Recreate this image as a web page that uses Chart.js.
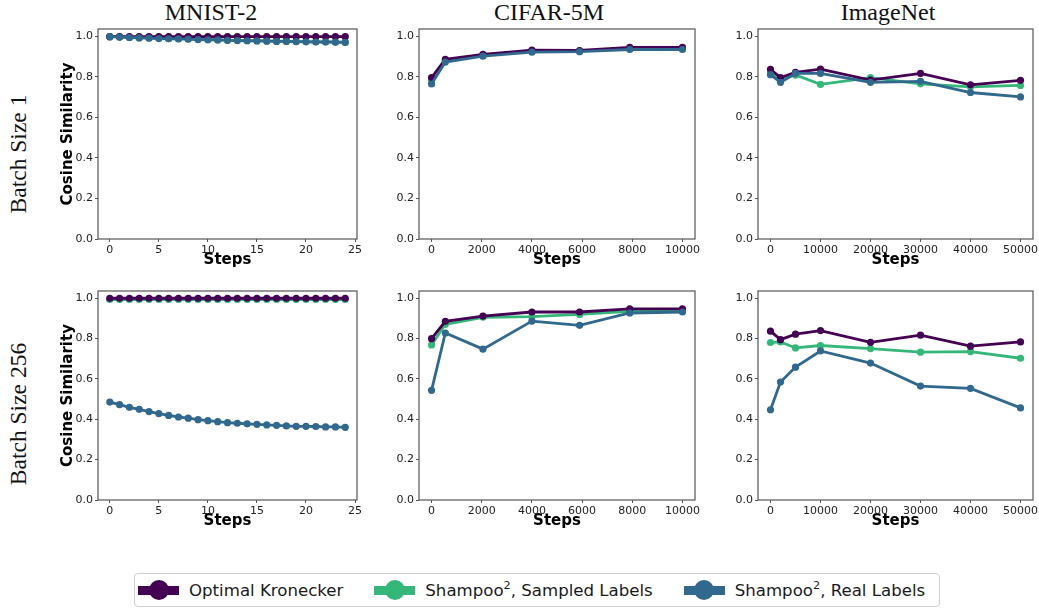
<!DOCTYPE html>
<html>
<head>
<meta charset="utf-8">
<script src="https://cdn.jsdelivr.net/npm/chart.js@4.4.1/dist/chart.umd.min.js"></script>
<style>
  body { margin: 0; width: 1039px; height: 609px; overflow: hidden; background: #fff; position: relative; font-family: "DejaVu Sans", sans-serif; }
  canvas { position: absolute; }
  .col-title { position: absolute; top: 0; font-family: "Liberation Serif", serif; font-size: 24px; line-height: 24px; transform: translateX(-50%); white-space: nowrap; color: #111; }
  .row-title { position: absolute; font-family: "Liberation Serif", serif; font-size: 23.5px; line-height: 23.5px; transform: translate(-50%, -50%) rotate(-90deg); white-space: nowrap; color: #111; }
  #legend { position: absolute; left: 134px; top: 573px; width: 801px; height: 32px; border: 1px solid #d0d0d0; border-radius: 4px; display: flex; align-items: center; padding-left: 3px; box-sizing: content-box; }
  .item { display: flex; align-items: center; margin-right: 31px; font-size: 16.6px; color: #1a1a1a; white-space: nowrap; }
  .mark { position: relative; width: 41px; height: 20px; margin-right: 10px; }
  .mark::before { content: ""; position: absolute; left: 0; top: 5.5px; width: 41px; height: 9px; background: var(--c); }
  .mark::after { content: ""; position: absolute; left: 10.5px; top: 0; width: 20px; height: 20px; border-radius: 50%; background: var(--c); }
  sup { font-size: 0.68em; line-height: 0; }
</style>
</head>
<body>
<div class="col-title" style="left:211px">MNIST-2</div>
<div class="col-title" style="left:549px">CIFAR-5M</div>
<div class="col-title" style="left:888px">ImageNet</div>
<div class="row-title" style="left:18.5px; top:154px">Batch Size 1</div>
<div class="row-title" style="left:18.5px; top:414px">Batch Size 256</div>

<div id="legend"></div>

<script>
// series names / colours
const seriesNames = ["Optimal Kronecker", "Shampoo<sup>2</sup>, Sampled Labels", "Shampoo<sup>2</sup>, Real Labels"];
const seriesColors = ["#440154", "#35b779", "#31688e"];

// x values (steps)
const mnistSteps = [0, 1, 2, 3, 4, 5, 6, 7, 8, 9, 10, 11, 12, 13, 14, 15, 16, 17, 18, 19, 20, 21, 22, 23, 24];
const cifarSteps = [0, 550, 2050, 4000, 5900, 7900, 10000];
const imagenetSteps = [0, 2000, 5000, 10000, 20000, 30000, 40000, 50000];

// tick labels
const mnistTicks = [0, 5, 10, 15, 20, 25];
const cifarTicks = [0, 2000, 4000, 6000, 8000, 10000];
const imagenetTicks = [0, 10000, 20000, 30000, 40000, 50000];
const yTicks = [0.0, 0.2, 0.4, 0.6, 0.8, 1.0];

// MNIST-2, batch size 1
const mnistBs1Kron = [0.997, 0.997, 0.997, 0.997, 0.997, 0.997, 0.997, 0.997, 0.997, 0.997, 0.997, 0.997, 0.997, 0.997, 0.997, 0.997, 0.997, 0.997, 0.997, 0.997, 0.997, 0.997, 0.997, 0.997, 0.997];
const mnistBs1Sampled = [0.997, 0.996, 0.994, 0.992, 0.991, 0.989, 0.988, 0.987, 0.986, 0.984, 0.983, 0.982, 0.980, 0.979, 0.978, 0.977, 0.976, 0.975, 0.975, 0.974, 0.973, 0.972, 0.972, 0.971, 0.970];
const mnistBs1Real = [0.997, 0.995, 0.993, 0.991, 0.990, 0.988, 0.987, 0.986, 0.985, 0.983, 0.982, 0.981, 0.979, 0.978, 0.977, 0.976, 0.975, 0.974, 0.974, 0.973, 0.972, 0.971, 0.971, 0.970, 0.969];

// MNIST-2, batch size 256
const mnistBs256Kron = [0.999, 0.999, 0.999, 0.999, 0.999, 0.999, 0.999, 0.999, 0.999, 0.999, 0.999, 0.999, 0.999, 0.999, 0.999, 0.999, 0.999, 0.999, 0.999, 0.999, 0.999, 0.999, 0.999, 0.999, 0.999];
const mnistBs256Sampled = [0.993, 0.993, 0.993, 0.993, 0.993, 0.993, 0.993, 0.993, 0.993, 0.993, 0.993, 0.993, 0.993, 0.993, 0.993, 0.993, 0.993, 0.993, 0.993, 0.993, 0.993, 0.993, 0.993, 0.993, 0.993];
const mnistBs256Real = [0.485, 0.472, 0.459, 0.449, 0.438, 0.428, 0.419, 0.411, 0.405, 0.398, 0.393, 0.388, 0.383, 0.380, 0.377, 0.375, 0.372, 0.370, 0.367, 0.365, 0.365, 0.364, 0.362, 0.362, 0.360];

// CIFAR-5M
const cifarBs1Kron = [0.796, 0.885, 0.910, 0.931, 0.929, 0.944, 0.944];
const cifarBs1Sampled = [0.783, 0.877, 0.908, 0.926, 0.926, 0.938, 0.938];
const cifarBs1Real = [0.764, 0.872, 0.901, 0.921, 0.923, 0.934, 0.934];
const cifarBs256Kron = [0.799, 0.885, 0.911, 0.931, 0.931, 0.946, 0.946];
const cifarBs256Sampled = [0.768, 0.870, 0.905, 0.908, 0.919, 0.934, 0.937];
const cifarBs256Real = [0.543, 0.827, 0.747, 0.886, 0.865, 0.926, 0.931];

// ImageNet
const imagenetBs1Kron = [0.836, 0.796, 0.821, 0.837, 0.783, 0.816, 0.760, 0.782];
const imagenetBs1Sampled = [0.816, 0.790, 0.808, 0.762, 0.795, 0.765, 0.750, 0.757];
const imagenetBs1Real = [0.810, 0.772, 0.816, 0.816, 0.772, 0.777, 0.722, 0.700];
const imagenetBs256Kron = [0.836, 0.794, 0.821, 0.839, 0.781, 0.816, 0.762, 0.783];
const imagenetBs256Sampled = [0.780, 0.783, 0.753, 0.765, 0.750, 0.732, 0.735, 0.702];
const imagenetBs256Real = [0.447, 0.584, 0.658, 0.738, 0.678, 0.564, 0.553, 0.456];

// panel layout (plot area box in page pixels)
const panels = [
  { l: 98,  t: 29,  r: 357,  b: 239, steps: mnistSteps, ticks: mnistTicks, xMin: -1.2, xMax: 25.2, yTitle: true, series: [mnistBs1Kron, mnistBs1Sampled, mnistBs1Real] },
  { l: 419, t: 29,  r: 695,  b: 239, steps: cifarSteps, ticks: cifarTicks, xMin: -500, xMax: 10500, series: [cifarBs1Kron, cifarBs1Sampled, cifarBs1Real] },
  { l: 758, t: 29,  r: 1033, b: 239, steps: imagenetSteps, ticks: imagenetTicks, xMin: -2500, xMax: 52500, series: [imagenetBs1Kron, imagenetBs1Sampled, imagenetBs1Real] },
  { l: 98,  t: 291, r: 357,  b: 500, steps: mnistSteps, ticks: mnistTicks, xMin: -1.2, xMax: 25.2, yTitle: true, series: [mnistBs256Kron, mnistBs256Sampled, mnistBs256Real] },
  { l: 419, t: 291, r: 695,  b: 500, steps: cifarSteps, ticks: cifarTicks, xMin: -500, xMax: 10500, series: [cifarBs256Kron, cifarBs256Sampled, cifarBs256Real] },
  { l: 758, t: 291, r: 1033, b: 500, steps: imagenetSteps, ticks: imagenetTicks, xMin: -2500, xMax: 52500, series: [imagenetBs256Kron, imagenetBs256Sampled, imagenetBs256Real] }
];

// draw order: real labels on top, then kronecker, sampled at bottom
const drawOrder = [1, 2, 0];

// full frame round the plot area, like matplotlib spines
const frame = {
  id: 'frame',
  afterDraw(chart) {
    const a = chart.chartArea, ctx = chart.ctx;
    ctx.save();
    ctx.strokeStyle = '#555';
    ctx.lineWidth = 1.2;
    ctx.strokeRect(a.left, a.top, a.right - a.left, a.bottom - a.top);
    ctx.restore();
  }
};

const padTop = 10, padRight = 25, xAxisH = 30;

panels.forEach(p => {
  const yW = p.yTitle ? 39 : 30;
  const canvas = document.createElement('canvas');
  const w = yW + (p.r - p.l) + padRight;
  const h = padTop + (p.b - p.t) + xAxisH;
  canvas.width = w; canvas.height = h;
  canvas.style.left = (p.l - yW) + 'px';
  canvas.style.top = (p.t - padTop) + 'px';
  canvas.style.width = w + 'px'; canvas.style.height = h + 'px';
  document.body.appendChild(canvas);

  new Chart(canvas.getContext('2d'), {
    type: 'line',
    data: {
      datasets: p.series.map((vals, i) => ({
        label: seriesNames[i],
        data: p.steps.map((s, j) => ({ x: s, y: vals[j] })),
        borderColor: seriesColors[i],
        backgroundColor: seriesColors[i],
        pointBackgroundColor: seriesColors[i],
        pointBorderWidth: 0,
        pointRadius: 3.6,
        borderWidth: 2.8,
        tension: 0,
        order: drawOrder[i]
      }))
    },
    options: {
      responsive: false,
      animation: false,
      events: [],
      layout: { padding: { top: padTop, right: padRight, left: 0, bottom: 0 } },
      plugins: { legend: { display: false }, tooltip: { enabled: false } },
      scales: {
        x: {
          type: 'linear',
          min: p.xMin, max: p.xMax,
          afterBuildTicks: s => { s.ticks = p.ticks.map(v => ({ value: v })); },
          afterFit: s => { s.height = xAxisH; },
          grid: { drawOnChartArea: false, drawTicks: true, tickLength: 3, color: '#555' },
          border: { display: false },
          ticks: { maxRotation: 0, autoSkip: false, padding: 2, color: '#222', font: { family: 'DejaVu Sans', size: 11 }, callback: v => String(v) },
          title: { display: true, text: 'Steps', color: '#000', padding: 0, font: { family: 'DejaVu Sans', size: 15, weight: 'bold' } }
        },
        y: {
          min: 0, max: 1.035,
          afterBuildTicks: s => { s.ticks = yTicks.map(v => ({ value: v })); },
          afterFit: s => { s.width = yW; },
          grid: { drawOnChartArea: false, drawTicks: true, tickLength: 3, color: '#555' },
          border: { display: false },
          ticks: { autoSkip: false, padding: 2, color: '#222', font: { family: 'DejaVu Sans', size: 11 }, callback: v => v.toFixed(1) },
          title: { display: !!p.yTitle, text: 'Cosine Similarity', color: '#000', padding: 0, font: { family: 'DejaVu Sans', size: 15, weight: 'bold' } }
        }
      }
    },
    plugins: [frame]
  });
});

// legend
const legend = document.getElementById('legend');
seriesNames.forEach((name, i) => {
  const item = document.createElement('div');
  item.className = 'item';
  if (i === seriesNames.length - 1) item.style.marginRight = '0';
  item.innerHTML = `<span class="mark" style="--c:${seriesColors[i]}"></span><span>${name}</span>`;
  legend.appendChild(item);
});
</script>
</body>
</html>
